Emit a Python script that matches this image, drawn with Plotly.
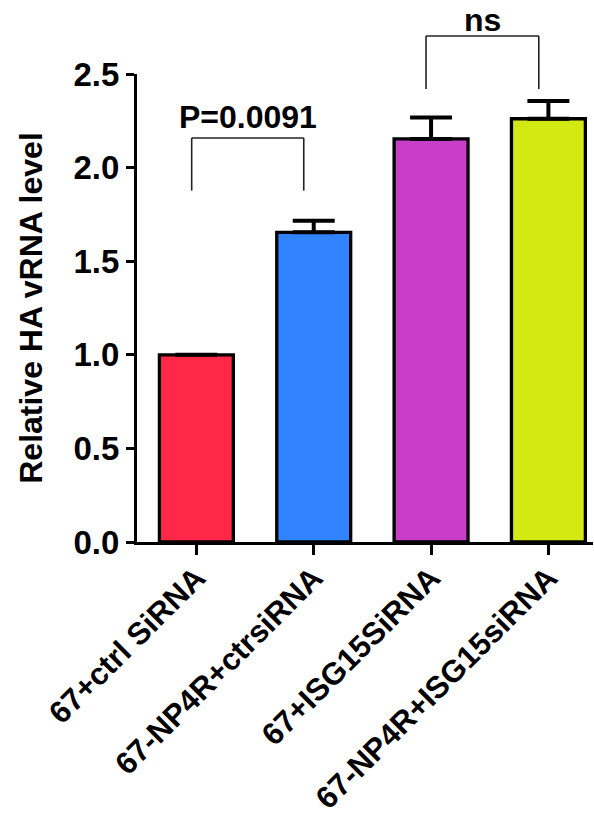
import plotly.graph_objects as go

categories = ["67+ctrl SiRNA", "67-NP4R+ctrsiRNA", "67+ISG15SiRNA", "67-NP4R+ISG15siRNA"]
values = [1.0, 1.654, 2.153, 2.261]
errors = [None, 0.062, 0.114, 0.095]
colors = ["#FF2846", "#3183FF", "#C93EC9", "#D3E912"]
y_ticks = [0.0, 0.5, 1.0, 1.5, 2.0, 2.5]
y_max = 2.5

# significance brackets: (x start, x end, bottom, top, label, label y)
brackets = [
    (-0.04, 0.915, 1.877, 2.158, "P=0.0091", 2.27),
    (1.957, 2.918, 2.42, 2.703, "ns", 2.79),
]

font_family = "Liberation Sans, Arial, sans-serif"
x_idx = list(range(len(categories)))

fig = go.Figure()
fig.add_trace(go.Bar(
    x=x_idx, y=values, width=0.63,
    marker=dict(color=colors, line=dict(color="black", width=3.3)),
    error_y=dict(type="data", array=errors, arrayminus=[0] * len(errors),
                 symmetric=False, color="black", thickness=4, width=21),
))

shapes = []
annotations = []
for x0, x1, yb, yt, label, ly in brackets:
    for xs, ys in [((x0, x0), (yb, yt)), ((x0, x1), (yt, yt)), ((x1, x1), (yt, yb))]:
        shapes.append(dict(type="line", xref="x", yref="paper",
                           x0=xs[0], x1=xs[1], y0=ys[0] / y_max, y1=ys[1] / y_max,
                           line=dict(color="#222222", width=1.6)))
    annotations.append(dict(x=(x0 + x1) / 2, y=ly / y_max, xref="x", yref="paper",
                            text=label, showarrow=False, yanchor="middle",
                            font=dict(family=font_family, size=32, color="black", weight="bold")))

fig.update_layout(
    width=594, height=823,
    margin=dict(l=137, r=1, t=74, b=281, autoexpand=False),
    paper_bgcolor="white", plot_bgcolor="white",
    showlegend=False,
    shapes=shapes, annotations=annotations,
    font=dict(family=font_family, size=32, color="black", weight="bold"),
    xaxis=dict(range=[-0.506, 3.38], tickvals=x_idx, ticktext=categories,
               tickangle=-45, showline=True, linecolor="black", linewidth=3.3,
               ticks="outside", ticklen=10, tickwidth=3, tickcolor="black",
               showgrid=False, zeroline=False, automargin=False,
               ticklabelstandoff=-8,
               tickfont=dict(family=font_family, size=31, color="black", weight="bold")),
    yaxis=dict(range=[0, y_max], tickvals=y_ticks, ticktext=[f"{v:.1f}" for v in y_ticks],
               showline=True, linecolor="black", linewidth=3.3,
               ticks="outside", ticklen=8, tickwidth=3, tickcolor="black",
               showgrid=False, zeroline=False, automargin=False,
               tickfont=dict(family=font_family, size=33, color="black", weight="bold"),
               title=dict(text="Relative HA vRNA level", standoff=22,
                          font=dict(family=font_family, size=32, color="black", weight="bold"))),
)

fig.write_html("out.html")
